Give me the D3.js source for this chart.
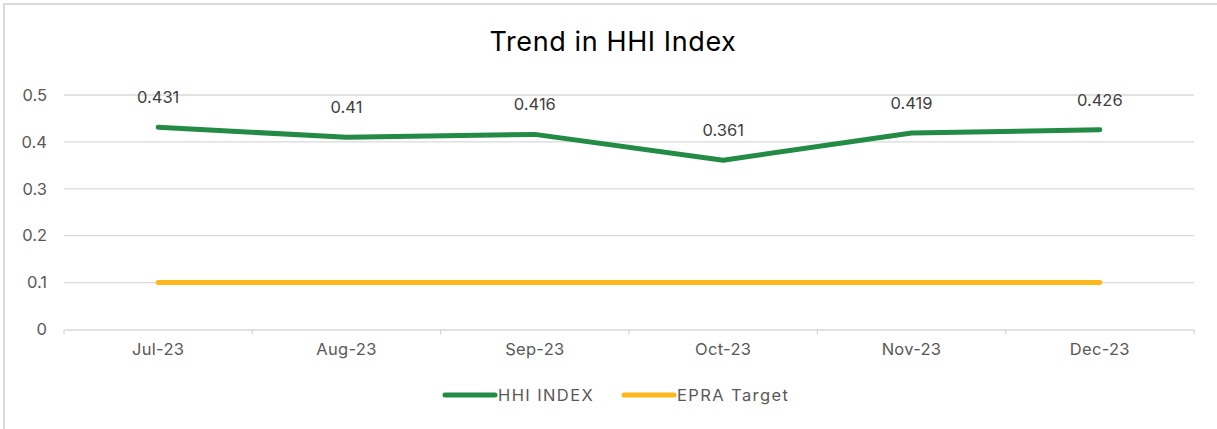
<!DOCTYPE html>
<html><head><meta charset="utf-8">
<script src="https://cdn.jsdelivr.net/npm/d3@7"></script>
<style>body{margin:0;background:#fff;overflow:hidden;}svg{display:block;font-family:Inter,"Noto Sans",sans-serif;}</style>
</head><body>
<svg id="c" width="1217" height="429"></svg>
<script>
const categories = ["Jul-23","Aug-23","Sep-23","Oct-23","Nov-23","Dec-23"];
const hhiValues = [0.431, 0.41, 0.416, 0.361, 0.419, 0.426];
const epraValues = [0.1, 0.1, 0.1, 0.1, 0.1, 0.1];
const yTicks = [0, 0.1, 0.2, 0.3, 0.4, 0.5];
const yTickLabels = ["0","0.1","0.2","0.3","0.4","0.5"];
const seriesNames = ["HHI INDEX","EPRA Target"];
const colors = ["#238b45","#ffb81c"];

(function(){
const svg = d3.select("#c");
svg.append("rect").attr("x",4).attr("y",4).attr("width",1230).attr("height",440)
  .attr("fill","#fff").attr("stroke","#d9d9d9").attr("stroke-width",2);

const pLeft=64,pRight=1194,pTop=95,pBottom=329.5;
const x = d3.scaleBand().domain(categories).range([pLeft,pRight]);
const y = d3.scaleLinear().domain([0,0.5]).range([pBottom,pTop]);

svg.append("text").attr("x",613).attr("y",51).attr("text-anchor","middle")
  .attr("font-size",27).attr("letter-spacing","0.6px").attr("fill","#000").text("Trend in HHI Index");

svg.append("g").selectAll("line").data(yTicks.filter(d=>d>0)).join("line")
  .attr("x1",pLeft).attr("x2",pRight).attr("y1",d=>y(d)).attr("y2",d=>y(d))
  .attr("stroke","#d9d9d9").attr("stroke-width",1.3);

svg.append("g").selectAll("text").data(yTicks).join("text")
  .attr("x",47).attr("y",d=>y(d)).attr("dy","0.35em").attr("text-anchor","end")
  .attr("font-size",16.5).attr("fill","#595959").text((d,i)=>yTickLabels[i]);

const xa = svg.append("g").attr("transform",`translate(0,${pBottom})`)
  .call(d3.axisBottom(x).tickSize(0).tickPadding(14));
xa.select(".domain").attr("stroke","#d9d9d9").attr("stroke-width",1.3);
xa.selectAll("text").attr("font-size",16.5).attr("letter-spacing","0.3px").attr("fill","#595959").attr("font-family","Inter,'Noto Sans',sans-serif");
const bounds = categories.map(c=>x(c)).concat([pRight]);
svg.append("g").selectAll("line").data(bounds).join("line")
  .attr("x1",d=>d).attr("x2",d=>d).attr("y1",pBottom).attr("y2",pBottom+5)
  .attr("stroke","#d9d9d9").attr("stroke-width",1.3);

const line = d3.line().x((d,i)=>x(categories[i])+x.bandwidth()/2).y(d=>y(d));
[[epraValues,1],[hhiValues,0]].forEach(([vals,ci])=>{
  svg.append("path").datum(vals).attr("d",line).attr("fill","none")
    .attr("stroke",colors[ci]).attr("stroke-width",5).attr("stroke-linecap","round").attr("stroke-linejoin","round");
});

svg.append("g").selectAll("text").data(hhiValues).join("text")
  .attr("x",(d,i)=>x(categories[i])+x.bandwidth()/2).attr("y",d=>y(d)-24)
  .attr("text-anchor","middle").attr("font-size",16.5).attr("fill","#404040").text(d=>String(d));

const lg = svg.append("g");
const legendPos = [{x:445,tx:498},{x:624,tx:677}];
seriesNames.forEach((n,i)=>{
  lg.append("line").attr("x1",legendPos[i].x).attr("x2",legendPos[i].x+50).attr("y1",395).attr("y2",395)
    .attr("stroke",colors[i]).attr("stroke-width",5).attr("stroke-linecap","round");
  lg.append("text").attr("x",legendPos[i].tx).attr("y",395).attr("dy","0.35em")
    .attr("font-size",16.5).attr("letter-spacing","1.4px").attr("fill","#595959").text(n);
});
})();
</script>
</body></html>
